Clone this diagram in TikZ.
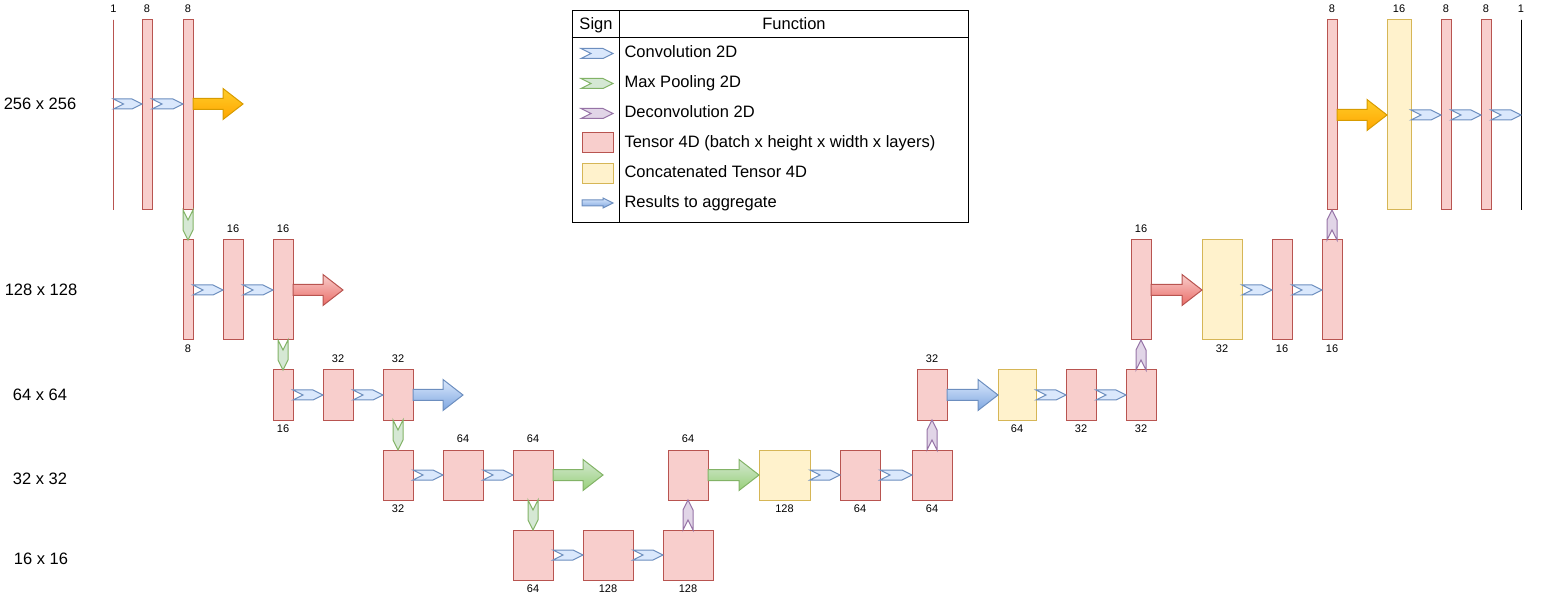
\documentclass[tikz,border=0pt]{standalone}
\usepackage{fontspec}
\setmainfont{Liberation Sans}
\usetikzlibrary{positioning,calc}
\definecolor{tensorfill}{HTML}{F8CECC}
\definecolor{tensorline}{HTML}{B85450}
\definecolor{concatfill}{HTML}{FFF2CC}
\definecolor{concatline}{HTML}{D6B656}
\definecolor{convfill}{HTML}{DAE8FC}
\definecolor{convline}{HTML}{6C8EBF}
\definecolor{poolfill}{HTML}{D5E8D4}
\definecolor{poolline}{HTML}{82B366}
\definecolor{deconvfill}{HTML}{E1D5E7}
\definecolor{deconvline}{HTML}{9673A6}
\definecolor{aggorange}{HTML}{FFCD28}
\definecolor{aggorangedark}{HTML}{FFA500}
\definecolor{aggorangeline}{HTML}{D79B00}
\definecolor{aggred}{HTML}{EA6B66}
\definecolor{aggblue}{HTML}{7EA6E0}
\definecolor{agggreen}{HTML}{97D077}
\newcommand{\numfont}{\fontsize{11}{13}\selectfont}
\newcommand{\bigfont}{\fontsize{16.5}{19}\selectfont}
\tikzset{
  hchev/.style={to path={let \p1=(\tikztostart), \p2=(\tikztotarget) in
    (\x1,\y1+5pt) -- (\x2-10pt,\y1+5pt) -- (\x2,\y1) -- (\x2-10pt,\y1-5pt) -- (\x1,\y1-5pt) -- (\x1+10pt,\y1) -- cycle}},
  downchev/.style={to path={let \p1=(\tikztostart), \p2=(\tikztotarget) in
    (\x1-5pt,\y1) -- (\x1,\y1-10pt) -- (\x1+5pt,\y1) -- (\x1+5pt,\y2+10pt) -- (\x1,\y2) -- (\x1-5pt,\y2+10pt) -- cycle}},
  upchev/.style={to path={let \p1=(\tikztostart), \p2=(\tikztotarget) in
    (\x1-5pt,\y1) -- (\x1,\y1+10pt) -- (\x1+5pt,\y1) -- (\x1+5pt,\y2-10pt) -- (\x1,\y2) -- (\x1-5pt,\y2-10pt) -- cycle}},
  bigarrow/.style={to path={let \p1=(\tikztostart), \p2=(\tikztotarget) in
    (\x1,\y1+5.5pt) -- (\x2-20pt,\y1+5.5pt) -- (\x2-20pt,\y1+15.5pt) -- (\x2,\y1) -- (\x2-20pt,\y1-15.5pt) -- (\x2-20pt,\y1-5.5pt) -- (\x1,\y1-5.5pt) -- cycle}}
}

\begin{document}
\begin{tikzpicture}[x=1pt, y=-1pt, line width=1pt, node distance=30pt]
\tikzstyle{tensor}=[draw=tensorline, fill=tensorfill, inner sep=0pt, outer sep=0pt]
\tikzstyle{concat}=[draw=concatline, fill=concatfill, inner sep=0pt, outer sep=0pt]
\tikzstyle{edge}=[inner sep=0pt, outer sep=0pt, minimum width=0pt, minimum height=190pt]
\tikzstyle{numup}=[font=\numfont, inner sep=0pt, yshift=7pt]
\tikzstyle{numdown}=[font=\numfont, inner sep=0pt, yshift=-4.5pt]
\tikzstyle{conv}=[draw=convline, fill=convfill]
\tikzstyle{pool}=[draw=poolline, fill=poolfill]
\tikzstyle{deconv}=[draw=deconvline, fill=deconvfill]
\tikzstyle{orangeagg}=[draw=aggorangeline, top color=aggorange, bottom color=aggorangedark]
\tikzstyle{redagg}=[draw=tensorline, top color=tensorfill, bottom color=aggred]
\tikzstyle{blueagg}=[draw=convline, top color=convfill, bottom color=aggblue]
\tikzstyle{greenagg}=[draw=poolline, top color=poolfill, bottom color=agggreen]
\tikzstyle{dimlabel}=[font=\bigfont, inner sep=0pt]
\tikzstyle{legtext}=[font=\bigfont, inner sep=0pt, anchor=west, text height=11.8pt, text depth=0pt]
\useasboundingbox (0,0) rectangle (1542,601);

\node[dimlabel] (r256) at (40,104) {256 x 256};
\node[dimlabel] (r128) at (41,290) {128 x 128};
\node[dimlabel] (r64) at (40,395) {64 x 64};
\node[dimlabel] (r32) at (40,479) {32 x 32};
\node[dimlabel] (r16) at (41,559) {16 x 16};

\node[edge, draw=tensorline, label={[numup]above:1}] (in) at (113.5,115) {};
\node[tensor, minimum width=10pt, minimum height=190pt, right=28.5pt of in, label={[numup]above:8}] (a1) {};
\node[tensor, minimum width=10pt, minimum height=190pt, right=31pt of a1, label={[numup]above:8}] (a2) {};
\node[tensor, minimum width=10pt, minimum height=100pt, below=of a2, label={[numdown]below:8}] (b1) {};
\node[tensor, minimum width=20pt, minimum height=100pt, right=of b1, label={[numup]above:16}] (b2) {};
\node[tensor, minimum width=20pt, minimum height=100pt, right=of b2, label={[numup]above:16}] (b3) {};
\node[tensor, minimum width=20pt, minimum height=50pt, below=of b3, label={[numdown]below:16}] (c1) {};
\node[tensor, minimum width=30pt, minimum height=50pt, right=of c1, label={[numup]above:32}] (c2) {};
\node[tensor, minimum width=30pt, minimum height=50pt, right=of c2, label={[numup]above:32}] (c3) {};
\node[tensor, minimum width=30pt, minimum height=50pt, below=of c3, label={[numdown]below:32}] (d1) {};
\node[tensor, minimum width=40pt, minimum height=50pt, right=of d1, label={[numup]above:64}] (d2) {};
\node[tensor, minimum width=40pt, minimum height=50pt, right=of d2, label={[numup]above:64}] (d3) {};
\node[tensor, minimum width=40pt, minimum height=50pt, below=of d3, label={[numdown]below:64}] (e1) {};
\node[tensor, minimum width=50pt, minimum height=50pt, right=of e1, label={[numdown]below:128}] (e2) {};
\node[tensor, minimum width=50pt, minimum height=50pt, right=of e2, label={[numdown]below:128}] (e3) {};
\node[tensor, minimum width=40pt, minimum height=50pt, above=of e3, label={[numup]above:64}] (f1) {};
\node[concat, minimum width=51pt, minimum height=50pt, right=51pt of f1, label={[numdown]below:128}] (g1) {};
\node[tensor, minimum width=40pt, minimum height=50pt, right=of g1, label={[numdown]below:64}] (g2) {};
\node[tensor, minimum width=40pt, minimum height=50pt, right=32pt of g2, label={[numdown]below:64}] (g3) {};
\node[tensor, minimum width=30pt, minimum height=50pt, above=of g3, label={[numup]above:32}] (h1) {};
\node[concat, minimum width=38pt, minimum height=50pt, right=51pt of h1, label={[numdown]below:64}] (i1) {};
\node[tensor, minimum width=30pt, minimum height=50pt, right=of i1, label={[numdown]below:32}] (i2) {};
\node[tensor, minimum width=30pt, minimum height=50pt, right=of i2, label={[numdown]below:32}] (i3) {};
\node[tensor, minimum width=20pt, minimum height=100pt, above=of i3, label={[numup]above:16}] (j1) {};
\node[concat, minimum width=40pt, minimum height=100pt, right=51pt of j1, label={[numdown]below:32}] (k1) {};
\node[tensor, minimum width=20pt, minimum height=100pt, right=of k1, label={[numdown]below:16}] (k2) {};
\node[tensor, minimum width=20pt, minimum height=100pt, right=of k2, label={[numdown]below:16}] (k3) {};
\node[tensor, minimum width=10pt, minimum height=190pt, above=of k3, label={[numup]above:8}] (l1) {};
\node[concat, minimum width=24pt, minimum height=190pt, right=50pt of l1, label={[numup]above:16}] (m1) {};
\node[tensor, minimum width=10pt, minimum height=190pt, right=of m1, label={[numup]above:8}] (m2) {};
\node[tensor, minimum width=10pt, minimum height=190pt, right=of m2, label={[numup]above:8}] (m3) {};
\node[edge, draw=black, right=of m3, label={[numup]above:1}] (out) {};

\coordinate (aggA) at ([xshift=50pt,yshift=11pt]a2.east);
\coordinate (aggB) at ([xshift=50pt]b3.east);
\coordinate (aggC) at ([xshift=50pt]c3.east);
\coordinate (aggD) at ([xshift=50pt]d3.east);

\draw[conv] ([yshift=11pt]in.east) to[hchev] ([yshift=11pt]a1.west);
\draw[conv] ([yshift=11pt]a1.east) to[hchev] ([yshift=11pt]a2.west);
\draw[orangeagg] ([yshift=11pt]a2.east) to[bigarrow] (aggA);
\draw[pool] (a2.south) to[downchev] (b1.north);
\draw[conv] (b1.east) to[hchev] (b2.west);
\draw[conv] (b2.east) to[hchev] (b3.west);
\draw[redagg] (b3.east) to[bigarrow] (aggB);
\draw[pool] (b3.south) to[downchev] (c1.north);
\draw[conv] (c1.east) to[hchev] (c2.west);
\draw[conv] (c2.east) to[hchev] (c3.west);
\draw[blueagg] (c3.east) to[bigarrow] (aggC);
\draw[pool] (c3.south) to[downchev] (d1.north);
\draw[conv] (d1.east) to[hchev] (d2.west);
\draw[conv] (d2.east) to[hchev] (d3.west);
\draw[greenagg] (d3.east) to[bigarrow] (aggD);
\draw[pool] (d3.south) to[downchev] (e1.north);
\draw[conv] (e1.east) to[hchev] (e2.west);
\draw[conv] (e2.east) to[hchev] (e3.west);
\draw[deconv] (e3.north) to[upchev] (f1.south);
\draw[greenagg] (f1.east) to[bigarrow] (g1.west);
\draw[conv] (g1.east) to[hchev] (g2.west);
\draw[conv] (g2.east) to[hchev] (g3.west);
\draw[deconv] (g3.north) to[upchev] (h1.south);
\draw[blueagg] (h1.east) to[bigarrow] (i1.west);
\draw[conv] (i1.east) to[hchev] (i2.west);
\draw[conv] (i2.east) to[hchev] (i3.west);
\draw[deconv] (i3.north) to[upchev] (j1.south);
\draw[redagg] (j1.east) to[bigarrow] (k1.west);
\draw[conv] (k1.east) to[hchev] (k2.west);
\draw[conv] (k2.east) to[hchev] (k3.west);
\draw[deconv] (k3.north) to[upchev] (l1.south);
\draw[orangeagg] (l1.east) to[bigarrow] (m1.west);
\draw[conv] (m1.east) to[hchev] (m2.west);
\draw[conv] (m2.east) to[hchev] (m3.west);
\draw[conv] (m3.east) to[hchev] (out.west);

\node[draw, inner sep=0pt, minimum width=396pt, minimum height=212pt] (legend) at (770,117) {};
\draw ([yshift=-27pt]legend.north west) -- ([yshift=-27pt]legend.north east);
\draw ([xshift=48pt]legend.north west) -- ([xshift=48pt]legend.south west);
\node[legtext, anchor=center] (signhead) at (596,24) {Sign};
\node[legtext, anchor=center] (funchead) at (794,24) {Function};
\draw[conv] (581,53.5) to[hchev] (613,53.5);
\draw[pool] (581,83.5) to[hchev] (613,83.5);
\draw[deconv] (581,113.5) to[hchev] (613,113.5);
\draw[tensor] (582,133) rectangle (613,153);
\draw[concat] (582,164) rectangle (613,184);
\draw[blueagg] (582,200) -- (603,200) -- (603,198) -- (613,203) -- (603,208) -- (603,206) -- (582,206) -- cycle;
\node[legtext] (legconv) at (624,52) {Convolution 2D};
\node[legtext] (legpool) at (624,82) {Max Pooling 2D};
\node[legtext] (legdeconv) at (624,112) {Deconvolution 2D};
\node[legtext] (legtensor) at (624,142) {Tensor 4D (batch x height x width x layers)};
\node[legtext] (legconcat) at (624,172) {Concatenated Tensor 4D};
\node[legtext] (legagg) at (624,202) {Results to aggregate};
\end{tikzpicture}
\end{document}
